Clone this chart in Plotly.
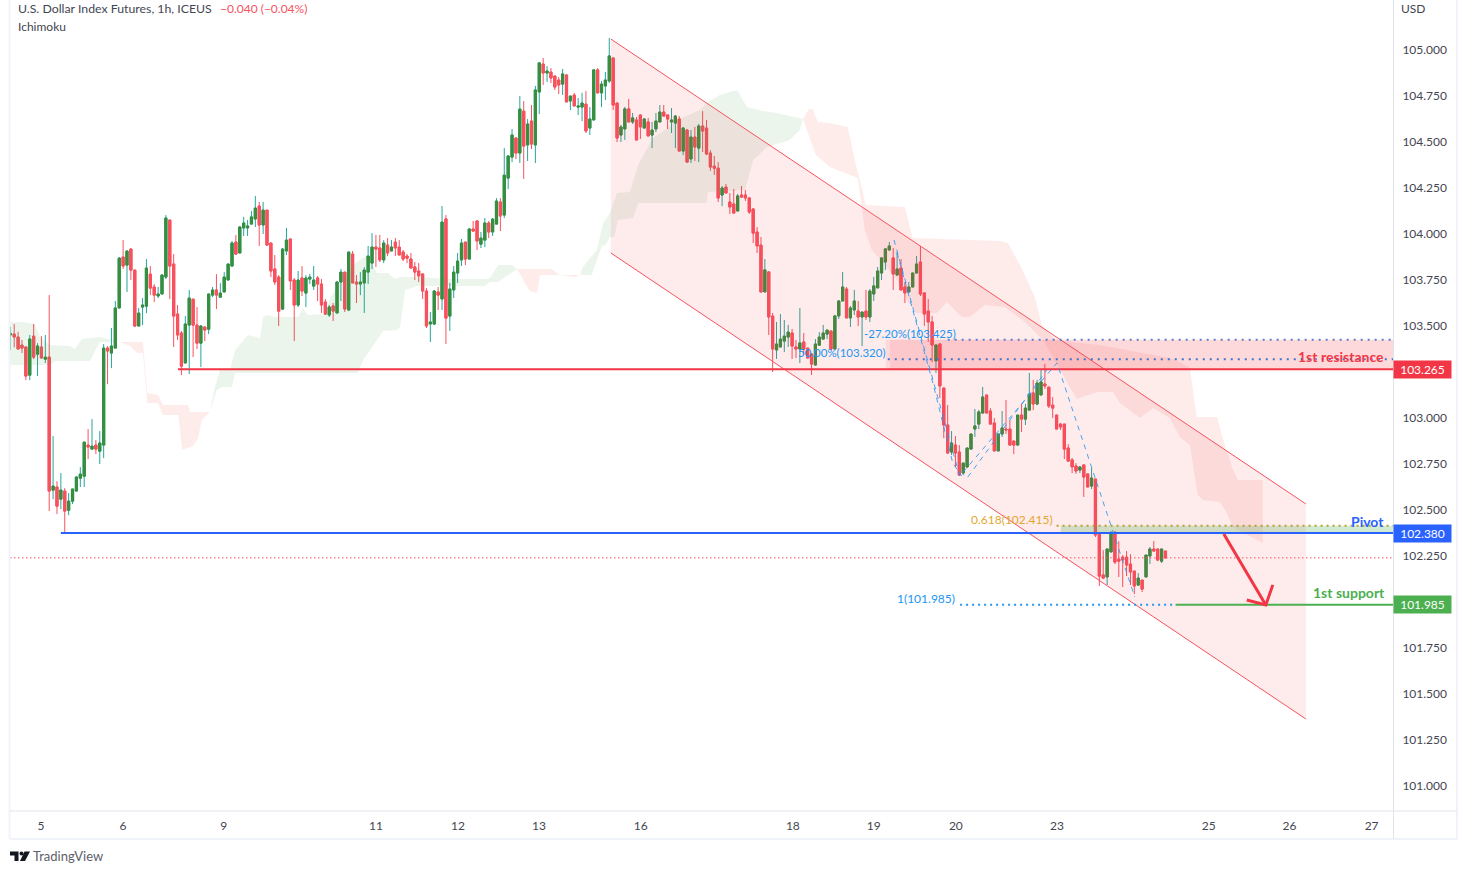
import plotly.graph_objects as go

# ---------- price data (bar index = position in the lists) ----------
opens = [
103.451,103.456,103.440,103.396,103.386,103.233,103.445,103.347,103.386,103.320,
103.331,102.608,102.625,102.559,102.603,102.499,102.548,102.603,102.673,102.684,
102.853,102.831,102.853,102.820,102.853,103.380,103.353,103.380,103.598,103.875,
103.831,103.918,103.804,103.500,103.603,103.608,103.782,103.712,103.663,103.674,
103.766,104.076,103.837,103.565,103.462,103.299,103.505,103.646,103.505,103.407,
103.494,103.483,103.668,103.696,103.657,103.685,103.750,103.826,103.956,103.897,
104.033,104.033,104.054,104.082,104.152,104.049,104.130,103.951,103.810,103.766,
103.592,103.908,103.973,103.750,103.614,103.761,103.679,103.755,103.717,103.761,
103.728,103.630,103.560,103.609,103.571,103.739,103.793,103.587,103.891,103.739,
103.728,103.734,103.793,103.842,103.929,103.924,103.859,103.940,103.908,103.956,
103.929,103.902,103.880,103.864,103.821,103.799,103.783,103.690,103.511,103.511,
103.685,103.647,104.082,103.554,103.696,103.788,103.859,103.956,103.864,104.027,
104.071,103.945,103.967,104.060,104.011,104.054,104.174,104.103,104.304,104.418,
104.522,104.440,104.668,104.484,104.614,104.484,104.772,104.924,104.875,104.880,
104.859,104.837,104.815,104.864,104.723,104.755,104.690,104.690,104.706,104.576,
104.620,104.892,104.767,104.805,104.832,104.957,104.712,104.538,104.571,104.680,
104.609,104.620,104.647,104.576,104.609,104.538,104.571,104.609,104.663,104.647,
104.609,104.603,104.625,104.451,104.565,104.408,104.527,104.467,104.587,104.576,
104.440,104.369,104.358,104.212,104.255,104.174,104.163,104.125,104.212,104.212,
104.196,104.136,104.011,103.940,103.685,103.794,103.554,103.370,103.386,103.418,
103.440,103.462,103.386,103.375,103.413,103.380,103.348,103.288,103.396,103.429,
103.456,103.473,103.375,103.555,103.636,103.701,103.544,103.587,103.581,103.549,
103.581,103.549,103.674,103.707,103.788,103.848,103.913,103.870,103.777,103.815,
103.712,103.685,103.712,103.788,103.848,103.680,103.581,103.522,103.310,103.402,
103.163,102.962,102.815,102.853,102.815,102.701,102.734,102.831,102.940,102.967,
103.027,103.125,103.038,102.973,102.821,102.913,102.940,102.940,102.875,102.853,
103.016,102.994,103.043,103.136,103.076,103.125,103.185,103.168,103.070,103.016,
102.967,102.967,102.837,102.772,102.739,102.717,102.745,102.696,102.630,102.668,
102.375,102.147,102.136,102.272,102.380,102.233,102.244,102.244,102.206,102.168,
102.092,102.119,102.136,102.250,102.288,102.288,102.222,102.277]
highs = [
103.496,103.511,103.469,103.424,103.386,103.451,103.511,103.407,103.445,103.451,
103.668,102.902,102.657,102.701,102.619,102.592,102.614,102.684,102.733,102.869,
102.940,102.994,102.880,102.929,103.402,103.391,103.489,103.636,103.875,103.967,
103.913,103.924,103.804,103.598,103.652,103.864,103.826,103.728,103.712,103.782,
104.103,104.076,103.891,103.614,103.473,103.554,103.696,103.646,103.603,103.505,
103.500,103.674,103.712,103.782,103.733,103.793,103.837,103.962,103.995,104.044,
104.093,104.076,104.125,104.207,104.174,104.174,104.130,103.951,103.886,103.777,
103.924,104.033,103.973,103.761,103.799,103.826,103.777,103.783,103.826,103.772,
103.755,103.647,103.614,103.625,103.745,103.810,103.793,103.902,103.908,103.777,
103.793,103.820,103.935,104.005,103.995,103.995,103.967,103.978,103.967,103.978,
103.967,103.913,103.891,103.897,103.848,103.842,103.783,103.706,103.576,103.696,
103.712,104.152,104.103,103.734,103.826,103.897,103.973,103.956,104.032,104.071,
104.076,104.011,104.087,104.071,104.087,104.195,104.195,104.467,104.429,104.571,
104.522,104.750,104.723,104.625,104.701,104.805,104.935,104.957,104.913,104.902,
104.859,104.853,104.897,104.870,104.750,104.767,104.739,104.767,104.777,104.690,
104.897,104.902,104.832,104.881,105.065,104.957,104.712,104.593,104.691,104.734,
104.658,104.636,104.647,104.631,104.631,104.609,104.658,104.701,104.701,104.647,
104.685,104.647,104.641,104.582,104.571,104.565,104.582,104.598,104.668,104.620,
104.456,104.424,104.391,104.261,104.272,104.223,104.245,104.218,104.261,104.239,
104.201,104.141,104.038,103.984,103.864,103.799,103.571,103.522,103.565,103.533,
103.506,103.484,103.424,103.598,103.462,103.380,103.348,103.429,103.467,103.506,
103.478,103.473,103.555,103.641,103.794,103.712,103.609,103.696,103.636,103.576,
103.696,103.701,103.767,103.821,103.875,103.924,103.957,103.924,103.902,103.864,
103.739,103.739,103.788,103.881,103.935,103.680,103.647,103.555,103.397,103.407,
103.163,103.071,102.929,102.902,102.853,102.755,102.837,102.913,103.049,103.044,
103.169,103.125,103.054,103.000,102.913,103.038,103.098,102.989,102.875,103.016,
103.076,103.076,103.245,103.207,103.207,103.261,103.294,103.168,103.114,103.016,
102.973,102.967,102.858,102.783,102.755,102.739,102.745,102.696,102.728,102.668,
102.375,102.282,102.288,102.386,102.380,102.331,102.255,102.277,102.260,102.168,
102.157,102.119,102.255,102.299,102.331,102.288,102.288,102.277]
lows = [
103.369,103.384,103.375,103.353,103.206,103.206,103.320,103.228,103.326,103.299,
102.494,102.559,102.478,102.505,102.373,102.472,102.532,102.603,102.625,102.625,
102.777,102.831,102.804,102.750,102.782,103.184,103.271,103.380,103.598,103.810,
103.685,103.750,103.494,103.500,103.505,103.570,103.668,103.630,103.652,103.674,
103.755,103.646,103.386,103.424,103.233,103.299,103.239,103.331,103.375,103.277,
103.418,103.456,103.657,103.592,103.657,103.685,103.750,103.826,103.886,103.897,
103.989,103.989,104.054,104.038,103.935,104.000,103.935,103.766,103.723,103.500,
103.586,103.886,103.696,103.418,103.603,103.663,103.603,103.728,103.696,103.636,
103.571,103.560,103.549,103.527,103.571,103.636,103.576,103.581,103.734,103.625,
103.668,103.571,103.728,103.810,103.821,103.848,103.842,103.880,103.908,103.880,
103.886,103.853,103.842,103.815,103.750,103.739,103.647,103.489,103.413,103.505,
103.587,103.587,103.402,103.473,103.652,103.734,103.826,103.831,103.864,104.016,
103.913,103.924,103.929,103.978,103.989,104.054,104.016,104.087,104.244,104.391,
104.407,104.386,104.299,104.397,104.462,104.386,104.652,104.810,104.826,104.821,
104.783,104.761,104.756,104.718,104.674,104.696,104.647,104.614,104.549,104.538,
104.620,104.767,104.690,104.728,104.821,104.674,104.500,104.500,104.511,104.609,
104.598,104.511,104.517,104.576,104.533,104.467,104.554,104.609,104.641,104.571,
104.549,104.467,104.451,104.429,104.386,104.386,104.397,104.391,104.446,104.429,
104.343,104.321,104.174,104.152,104.223,104.109,104.114,104.125,104.196,104.180,
104.109,103.951,103.897,103.685,103.685,103.451,103.250,103.321,103.386,103.359,
103.386,103.321,103.326,103.299,103.342,103.326,103.234,103.288,103.396,103.429,
103.429,103.369,103.375,103.538,103.636,103.544,103.495,103.560,103.500,103.391,
103.533,103.522,103.636,103.707,103.750,103.805,103.913,103.696,103.777,103.696,
103.625,103.685,103.712,103.788,103.663,103.500,103.413,103.304,103.245,103.109,
102.891,102.804,102.799,102.734,102.685,102.690,102.728,102.831,102.897,102.940,
103.027,103.027,102.967,102.821,102.821,102.897,102.913,102.853,102.804,102.853,
102.924,102.962,103.043,103.043,103.070,103.125,103.158,103.054,103.000,102.940,
102.935,102.777,102.761,102.701,102.696,102.701,102.571,102.625,102.614,102.353,
102.087,102.125,102.092,102.272,102.206,102.136,102.081,102.141,102.092,102.043,
102.087,102.054,102.136,102.206,102.272,102.222,102.212,102.239]
closes = [
103.460,103.440,103.375,103.380,103.228,103.429,103.331,103.391,103.326,103.331,
102.603,102.630,102.521,102.608,102.494,102.548,102.614,102.679,102.695,102.869,
102.842,102.847,102.831,102.864,103.380,103.364,103.391,103.598,103.869,103.826,
103.907,103.804,103.500,103.570,103.614,103.815,103.706,103.668,103.674,103.777,
104.087,103.826,103.554,103.451,103.282,103.511,103.652,103.505,103.407,103.500,
103.478,103.674,103.696,103.668,103.679,103.766,103.837,103.951,103.891,104.038,
104.060,104.044,104.093,104.141,104.049,104.130,103.940,103.799,103.739,103.581,
103.918,103.967,103.745,103.614,103.750,103.690,103.761,103.766,103.750,103.728,
103.614,103.565,103.603,103.581,103.739,103.793,103.592,103.902,103.734,103.728,
103.739,103.804,103.880,103.929,103.918,103.859,103.951,103.897,103.929,103.924,
103.886,103.864,103.869,103.815,103.793,103.772,103.690,103.500,103.522,103.690,
103.668,104.065,103.543,103.701,103.793,103.853,103.951,103.864,104.027,104.016,
103.962,103.978,104.060,104.011,104.081,104.179,104.098,104.320,104.424,104.538,
104.440,104.679,104.478,104.598,104.489,104.783,104.930,104.875,104.886,104.848,
104.799,104.810,104.870,104.718,104.750,104.696,104.696,104.712,104.560,104.625,
104.892,104.767,104.815,104.837,104.968,104.701,104.522,104.582,104.680,104.609,
104.631,104.511,104.582,104.625,104.533,104.565,104.614,104.663,104.641,104.625,
104.620,104.641,104.451,104.576,104.391,104.527,104.473,104.587,104.560,104.435,
104.364,104.358,104.196,104.250,104.223,104.147,104.114,104.207,104.201,104.196,
104.120,104.005,103.935,103.685,103.805,103.549,103.375,103.402,103.429,103.445,
103.467,103.391,103.375,103.408,103.375,103.326,103.293,103.402,103.440,103.462,
103.478,103.375,103.555,103.636,103.712,103.544,103.598,103.636,103.549,103.576,
103.549,103.690,103.718,103.799,103.870,103.919,103.935,103.783,103.810,103.696,
103.680,103.712,103.788,103.837,103.674,103.565,103.522,103.397,103.397,103.174,
102.962,102.810,102.864,102.810,102.690,102.755,102.837,102.913,102.957,103.033,
103.114,103.027,102.967,102.821,102.913,102.946,102.935,102.853,102.853,103.016,
102.994,103.054,103.130,103.076,103.190,103.196,103.174,103.065,103.054,102.940,
102.951,102.831,102.766,102.734,102.712,102.734,102.679,102.625,102.674,102.364,
102.141,102.130,102.288,102.375,102.217,102.222,102.228,102.201,102.163,102.087,
102.130,102.070,102.255,102.288,102.277,102.228,102.288,102.239]

# ---------- Ichimoku cloud outlines (bar index, price) ----------
green1_x = [0,3,6.3,7.6,10.2,15.3,16.6,18.4,23,28.2,23,20.5,11.5,10.2,0]
green1_y = [103.522,103.522,103.511,103.440,103.397,103.392,103.375,103.430,103.440,103.413,103.413,103.310,103.310,103.288,103.288]
red1_x = [28.2,34.1,35.2,38,39.3,45.7,46.2,51.3,49.2,48.3,47,44.2,43.2,39.2,38,35.2,34.1,32.6,30.8,28.2]
red1_y = [103.413,103.413,103.136,103.125,103.071,103.071,103.033,103.033,102.989,102.892,102.848,102.826,103.016,103.016,103.082,103.082,103.354,103.354,103.392,103.413]
green2_x = [51.3,52.4,53.9,56.5,57.8,61.1,64.2,65,66.2,68,74,75.2,76.5,80.9,82.2,88.1,91.7,94.3,97.1,98.9,100.2,105.3,112.3,122,123.3,125.4,129,130.3,
            125.4,123.3,122,112.3,104.6,101.5,100.2,99.4,95.8,94.3,90.7,89.4,57.8,57,54.4,53.1,51.3]
green2_y = [103.033,103.152,103.261,103.261,103.370,103.451,103.435,103.549,103.560,103.549,103.549,103.598,103.560,103.565,103.652,103.832,103.886,103.788,103.788,103.756,103.767,103.767,103.756,103.756,103.761,103.832,103.832,103.810,
            103.739,103.739,103.718,103.718,103.718,103.696,103.495,103.478,103.473,103.424,103.315,103.245,103.245,103.169,103.169,103.152,103.033]
red2_x = [130.3,139.2,141.3,144.7,146.5,145.2,141.3,136.2,135.4,133.6,132.9,130.3]
red2_y = [103.810,103.810,103.777,103.777,103.777,103.767,103.777,103.777,103.680,103.690,103.712,103.810]
green3_x = [146.5,147.2,150.8,152.4,154.2,156,159.3,161.4,165.2,168.3,171.4,177.3,179,182.4,185.8,187,189.4,193.5,197.1,203.8,
            203,200.4,197.9,194.5,191,188.9,179.4,179,161.4,160.1,156.2,155.3,154.2,153.1,152.1,149.5,146.5]
green3_y = [103.777,103.821,103.913,104.060,104.114,104.223,104.228,104.375,104.522,104.565,104.620,104.674,104.712,104.756,104.777,104.777,104.690,104.669,104.658,104.625,
            104.565,104.511,104.495,104.473,104.402,104.239,104.228,104.169,104.169,104.087,104.076,103.984,103.984,103.940,103.935,103.777,103.777]
red3_x = [203.8,205.3,206.3,207.6,210.7,215.3,217.1,220,230,232,254.4,256.5,260,263.4,265.2,268.5,280.1,298.1,300.7,303.3,305,310.3,311.5,314.1,315.6,322,322,
          319.5,314.3,312.8,311,306.6,305.3,303.3,300.7,298.1,293.8,290.4,285.3,283.5,279.4,274.2,272.4,268,265.5,260.8,255.7,250.5,246.7,244.6,240.8,238.2,233,230.8,228,224.9,221.5,219.7,217.9,210.7,207.1,203.8]
red3_y = [104.625,104.680,104.680,104.609,104.604,104.582,104.402,104.158,104.147,103.979,103.962,103.951,103.815,103.658,103.506,103.424,103.397,103.326,103.305,103.272,103.006,103.006,102.908,102.734,102.663,102.663,102.321,
          102.348,102.408,102.484,102.544,102.554,102.582,102.853,102.897,103.000,103.054,103.000,103.082,103.141,103.141,103.103,103.169,103.332,103.424,103.522,103.603,103.614,103.549,103.549,103.631,103.571,103.571,103.631,103.750,103.832,103.913,104.022,104.305,104.364,104.430,104.625]

# ---------- drawings ----------
channel_x = [154.4,333.1,333.1,154.4,154.4]
channel_y = [105.060,102.533,101.364,103.897,105.060]
wave1_x = [227.2,244.1,269.1,289.1]
wave1_y = [103.968,102.685,103.299,102.027]
wave2_x = [228,232,237.2,242.3,244.6]
wave2_y = [103.897,103.587,103.190,102.756,102.685]
wave3_x = [246.2,266.5]
wave3_y = [102.680,103.261]
arrow_x = [312,322.8]
arrow_y = [102.370,101.984]
arrow_head_x = [317.9,322.8,324.6]
arrow_head_y = [102.011,101.984,102.093]

RESISTANCE, PIVOT, SUPPORT = 103.265, 102.380, 101.985
PIVOT_DRAWN = 102.375
FIB_TOP, FIB_MID, FIB_618, LAST = 103.425, 103.320, 102.415, 102.240
X_MIN, X_MAX = -0.08, 355.5
Y_MIN, Y_MAX = 100.864, 105.272

y_ticks = [105,104.75,104.5,104.25,104,103.75,103.5,103,102.75,102.5,102.25,101.75,101.5,101.25,101]
x_ticks = [7.9,29,54.9,94,115.1,135.9,162.1,201.2,222,243.1,269.1,308.1,328.9,350]
x_labels = ["5","6","9","11","12","13","16","18","19","20","23","25","26","27"]

FONT = "Lato"
TEXT = "#434651"
UP_WICK, UP_BODY, DOWN = "#26A69A", "#388E3C", "#F7525F"
RED, BLUE, GREEN = "#F23645", "#2962FF", "#4CAF50"
FIB_BLUE = "#2196F3"

bars = list(range(len(opens)))
fig = go.Figure()

# wicks
fig.add_trace(go.Candlestick(x=bars, open=opens, high=highs, low=lows, close=closes, whiskerwidth=0,
    increasing=dict(line=dict(color=UP_WICK, width=1), fillcolor=UP_BODY),
    decreasing=dict(line=dict(color=DOWN, width=1), fillcolor=DOWN), hoverinfo="skip", showlegend=False))
# bodies drawn over them in their own colour
fig.add_trace(go.Candlestick(x=bars, open=opens, close=closes,
    high=[max(o, c) for o, c in zip(opens, closes)],
    low=[min(o, c) for o, c in zip(opens, closes)], whiskerwidth=0,
    increasing=dict(line=dict(color=UP_BODY, width=1), fillcolor=UP_BODY),
    decreasing=dict(line=dict(color=DOWN, width=1), fillcolor=DOWN), hoverinfo="skip", showlegend=False))

def area(x, y, color):
    fig.add_trace(go.Scatter(x=x, y=y, mode="lines", fill="toself", fillcolor=color,
                             line=dict(width=0), hoverinfo="skip", showlegend=False))

def line(x, y, color, width=1, dash=None):
    fig.add_trace(go.Scatter(x=x, y=y, mode="lines", line=dict(color=color, width=width, dash=dash),
                             hoverinfo="skip", showlegend=False))

CG, CR = "rgba(67,160,71,0.10)", "rgba(244,67,54,0.10)"
for xs, ys, col in [(green1_x, green1_y, CG), (red1_x, red1_y, CR), (green2_x, green2_y, CG), (red2_x, red2_y, CR),
                    (green3_x, green3_y, CG), (red3_x, red3_y, CR)]:
    area(xs, ys, col)

area(channel_x, channel_y, "rgba(242,54,69,0.10)")
line(channel_x[:2], channel_y[:2], DOWN)
line(channel_x[2:4], channel_y[2:4], DOWN)

# resistance and pivot zones
area([225.1, X_MAX, X_MAX, 225.1, 225.1], [FIB_TOP, FIB_TOP, RESISTANCE, RESISTANCE, FIB_TOP], "rgba(242,54,69,0.10)")
area([226.2, X_MAX, X_MAX, 226.2, 226.2], [FIB_TOP, FIB_TOP, RESISTANCE, RESISTANCE, FIB_TOP], "rgba(242,54,69,0.10)")
area([270.1, X_MAX, X_MAX, 270.1, 270.1], [FIB_618, FIB_618, PIVOT_DRAWN, PIVOT_DRAWN, FIB_618], "rgba(76,175,80,0.25)")

line([X_MIN, X_MAX], [LAST, LAST], DOWN, 1, "1.5px,2.5px")
line([241, X_MAX], [FIB_TOP, FIB_TOP], "#5C7FC8", 2, "2px,5px")
line([225.6, X_MAX], [FIB_MID, FIB_MID], "#3F74C9", 2, "2px,5px")
line([269, X_MAX], [FIB_618, FIB_618], "#B7A12C", 2, "2px,4px")
line([244.2, 299.6], [SUPPORT, SUPPORT], FIB_BLUE, 2, "2px,4px")
line([43.1, X_MAX], [RESISTANCE, RESISTANCE], RED, 2)
line([13, X_MAX], [PIVOT_DRAWN, PIVOT_DRAWN], BLUE, 2)
line([299.6, X_MAX], [SUPPORT, SUPPORT], GREEN, 2)
line(wave1_x, wave1_y, "rgba(33,150,243,0.85)", 1, "5px,5px")
line(wave2_x, wave2_y, "rgba(33,150,243,0.85)", 1, "5px,5px")
line(wave3_x, wave3_y, "rgba(33,150,243,0.85)", 1, "5px,5px")
line(arrow_x, arrow_y, RED, 3)
line(arrow_head_x, arrow_head_y, RED, 3)

def note(x, y, text, color, anchor="left", size=12, bold=False):
    fig.add_annotation(x=x, y=y, text=f"<b>{text}</b>" if bold else text, showarrow=False, xanchor=anchor,
                       yanchor="middle", font=dict(family=FONT, size=size, color=color))

note(218.9, 103.457, "-27.20%(103.425)", FIB_BLUE, size=11.5)
note(202, 103.354, "50.00%(103.320)", FIB_BLUE, size=11.5)
note(243.4, 102.017, "1(101.985)", FIB_BLUE, "right")
note(268.6, 102.446, "0.618(102.415)", "#E3A72F", "right")
note(353.6, 103.332, "1st resistance", RED, "right", 14, True)
note(353.8, 102.440, "Pivot", BLUE, "right", 14, True)
note(353.9, 102.049, "1st support", GREEN, "right", 14, True)

# ---------- chrome positioned in page pixels ----------
L, R, T, B = 10, 1393, 0, 811
def px(x): return (x - L) / (R - L)
def py(y): return (B - y) / (B - T)

def page_text(x, y, text, color=TEXT, size=12, anchor="left"):
    fig.add_annotation(xref="paper", yref="paper", x=px(x), y=py(y), text=text, showarrow=False,
                       xanchor=anchor, yanchor="middle", font=dict(family=FONT, size=size, color=color))

page_text(16, 9, "U.S. Dollar Index Futures, 1h, ICEUS", TEXT, 12.3)
page_text(218, 9, "−0.040 (−0.04%)", DOWN, 12)
page_text(16, 27, "Ichimoku", TEXT)
page_text(1399, 9, "USD", TEXT)
page_text(31, 856, "TradingView", "#5D606B", 13)

def price_tag(level, drawn, color):
    fig.add_annotation(xref="paper", yref="y", x=1, y=drawn, text=f"{level:.3f}", showarrow=False,
                       xanchor="left", yanchor="middle", bgcolor=color, width=57, height=17, borderpad=0,
                       font=dict(family=FONT, size=12, color="white"))
price_tag(RESISTANCE, RESISTANCE, RED)
price_tag(PIVOT, PIVOT_DRAWN, BLUE)
price_tag(SUPPORT, SUPPORT, GREEN)

def rule(x0, y0, x1, y1, color, width=1):
    fig.add_shape(type="line", xref="paper", yref="paper", x0=px(x0), y0=py(y0), x1=px(x1), y1=py(y1),
                  line=dict(color=color, width=width), layer="above")

BORDER, OUTER = "#E0E3EB", "#F0F3FA"
rule(9.5, 0, 9.5, 839, OUTER, 2)
rule(9.5, 839, 1457, 839, OUTER, 2)
rule(1457, 0, 1457, 839, OUTER, 2)
rule(10, 811, 1457, 811, BORDER, 1)
rule(1393.5, 0, 1393.5, 839, BORDER, 1)

# TradingView mark
def logo_path(points):
    return "M" + " L".join(f"{px(a):.5f},{py(b):.5f}" for a, b in points) + " Z"
for pts in ([(10, 851.5), (18.5, 851.5), (18.5, 861), (14.5, 861), (14.5, 855.5), (10, 855.5)],
            [(24.5, 851.5), (30, 851.5), (25, 861), (20, 861)]):
    fig.add_shape(type="path", xref="paper", yref="paper", path=logo_path(pts), fillcolor="#131722", line=dict(width=0))
fig.add_shape(type="circle", xref="paper", yref="paper", x0=px(19.5), x1=px(23.5), y0=py(855.5), y1=py(851.5),
              fillcolor="#131722", line=dict(width=0))

fig.update_layout(
    width=1460, height=874, autosize=False, paper_bgcolor="white", plot_bgcolor="white",
    margin=dict(l=L, r=1460 - R, t=T, b=874 - B), showlegend=False, boxgap=0.2,
    font=dict(family=FONT, size=12, color=TEXT),
    xaxis=dict(range=[X_MIN, X_MAX], type="linear", rangeslider=dict(visible=False), showgrid=False, zeroline=False,
               showline=False, tickmode="array", tickvals=x_ticks, ticktext=x_labels, ticks="outside", ticklen=4,
               tickcolor="rgba(0,0,0,0)", tickfont=dict(family=FONT, size=12, color=TEXT)),
    yaxis=dict(range=[Y_MIN, Y_MAX], side="right", showgrid=False, zeroline=False, showline=False,
               tickmode="array", tickvals=y_ticks, ticktext=[f"{v:.3f}" for v in y_ticks], ticks="outside", ticklen=6,
               tickcolor="rgba(0,0,0,0)", tickfont=dict(family=FONT, size=12, color=TEXT)),
)

fig.write_html("out.html", config=dict(displayModeBar=False),
               post_script="document.body.style.margin='0';document.documentElement.style.overflow='hidden';")
